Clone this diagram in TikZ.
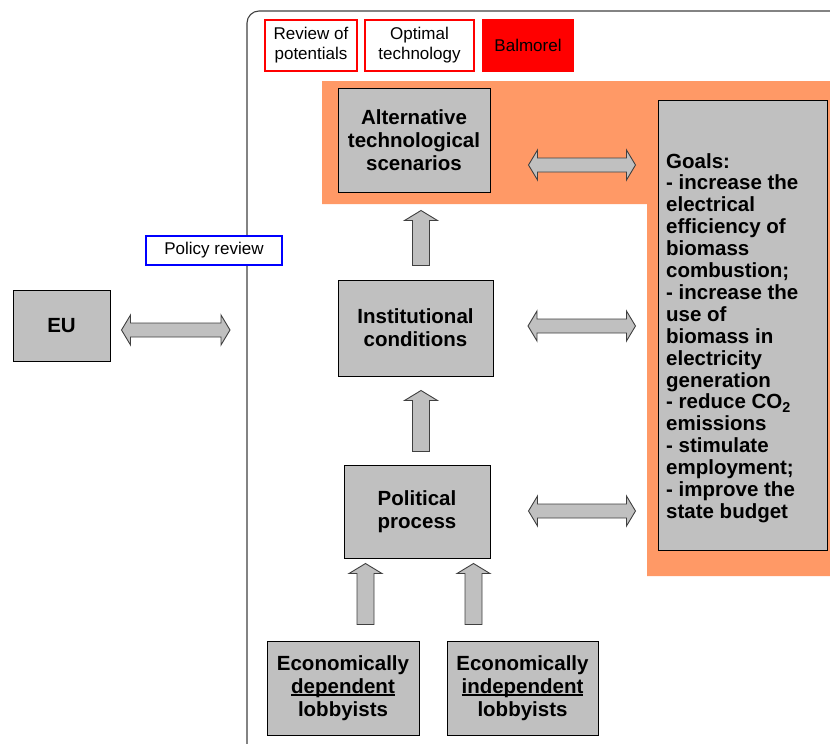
\documentclass[tikz,border=0pt]{standalone}
\usepackage{fontspec}
\setmainfont{Liberation Sans}
\usetikzlibrary{calc}
\definecolor{boxgray}{HTML}{C0C0C0}
\definecolor{salmon}{HTML}{FF9966}
\definecolor{edgegray}{HTML}{404040}

% horizontal two-headed block arrow between two tip points
\newcommand\dblarrow[2]{%
  \draw[blockarrow] (#1) -- ++(9,-15) -- ++(0,8) -- ($(#2)+(-9,-7)$) -- ++(0,-8)
    -- (#2) -- ++(-9,15) -- ++(0,-8) -- ($(#1)+(9,7)$) -- ++(0,8) -- cycle;}
% upward block arrow from a tail point to a tip point
\newcommand\uparr[2]{%
  \draw[blockarrow] (#2) -- ++(16.5,10) -- ++(-8,0) -- ($(#1)+(8.5,0)$)
    -- ($(#1)+(-8.5,0)$) -- ($(#2)+(-8.5,10)$) -- ++(-8,0) -- cycle;}
% underline drawn just below the baseline
\newcommand\ulword[1]{{\setbox0\hbox{#1}\rlap{\rule[-2.2pt]{\wd0}{1.3pt}}\box0}}

\begin{document}
\begin{tikzpicture}[x=1pt,y=-1pt,
  bigfont/.style={font=\fontsize{20.5}{23.3}\selectfont\bfseries},
  smallfont/.style={font=\fontsize{17}{20}\selectfont},
  graybox/.style={draw=black,line width=1pt,fill=boxgray,inner sep=0pt,
    align=center,bigfont},
  tool/.style={draw=red,line width=2pt,inner sep=0pt,align=center,smallfont,
    minimum height=51pt},
  blockarrow/.style={draw=edgegray,line width=0.9pt,fill=boxgray,line join=miter}]
\useasboundingbox (0,0) rectangle (830,744);

% outer system frame
\draw[edgegray,line width=1.1pt,rounded corners=12pt] (247,760) -- (247,11) -- (850,11);

% highlighted region
\fill[salmon] (322,81) -- (830,81) -- (830,576) -- (647,576) -- (647,204) -- (322,204) -- cycle;

% model tools
\node[tool,minimum width=92pt] (rev) at (311,45.5) {Review of\\potentials};
\node[tool,minimum width=109pt] (opt) at (419.5,45.5) {Optimal\\technology};
\node[tool,minimum width=90pt,fill=red] (bal) at (528,45.5) {Balmorel};
\node[draw=blue,line width=2pt,inner sep=0pt,smallfont,minimum width=136pt,
  minimum height=29pt,fill=white] (pol-rev) at (214,250.5) {Policy review};

% main boxes
\node[graybox,minimum width=152pt,minimum height=104pt] (alt) at (414,140)
  {Alternative\\technological\\scenarios};
\node[graybox,minimum width=155pt,minimum height=96pt] (inst) at (415.5,328)
  {Institutional\\conditions};
\node[graybox,minimum width=146pt,minimum height=93pt] (pol) at (417,511.5)
  {Political\\process};
\node[graybox,minimum width=152pt,minimum height=94pt] (dep) at (343,688)
  {Economically\\\ulword{dependent}\\lobbyists};
\node[graybox,minimum width=151pt,minimum height=94pt] (indep) at (522.5,688)
  {Economically\\\ulword{independent}\\lobbyists};
\node[graybox,minimum width=97pt,minimum height=71pt] (eu) at (61.5,325.5) {EU};
\node[graybox,minimum width=169pt,minimum height=450pt] (goalsbox) at (742.5,325) {};
\node[anchor=north west,inner sep=0pt,align=left,
  font=\fontsize{20.5}{21.9}\selectfont\bfseries] (goals) at (666,153)
  {Goals:\\- increase the\\electrical\\efficiency of\\biomass\\combustion;\\
   - increase the\\use of\\biomass in\\electricity\\generation\\
   - reduce CO\textsubscript{2}\\emissions\\- stimulate\\employment;\\
   - improve the\\state budget};

% connectors
\coordinate (eu-r) at (230,330);
\dblarrow{$(eu.east)+(11,4.5)$}{eu-r}
\dblarrow{$(alt.east)+(38,25)$}{$(goalsbox.west)+(-22,-160)$}
\dblarrow{$(inst.east)+(34.5,-2)$}{$(goalsbox.west)+(-22,1)$}
\dblarrow{$(pol.east)+(38,-0.5)$}{$(goalsbox.west)+(-22,186)$}

\uparr{$(inst.north)+(5.5,-14)$}{$(alt.south)+(7,18)$}
\uparr{$(pol.north)+(4,-13)$}{$(inst.south)+(5.5,14)$}
\uparr{$(dep.north)+(22.5,-16)$}{$(pol.south)+(-51.5,5)$}
\uparr{$(indep.north)+(-49,-16)$}{$(pol.south)+(56.5,5)$}
\end{tikzpicture}
\end{document}
